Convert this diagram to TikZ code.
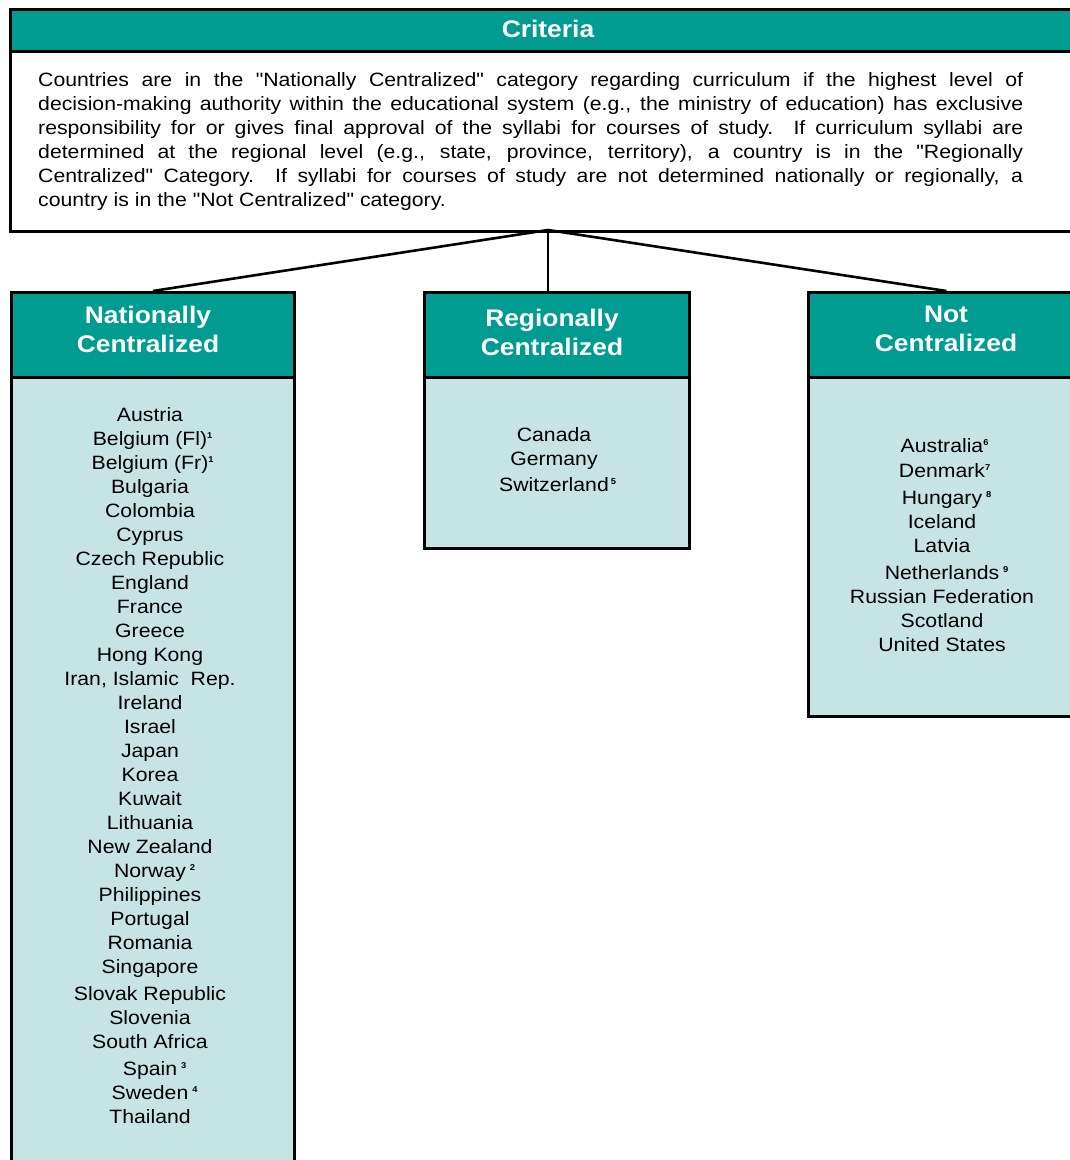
\documentclass[tikz,border=0pt]{standalone}
\usepackage{fontspec}
\setmainfont{Liberation Sans}[FakeStretch=1.1, Ligatures=TeXOff]
\definecolor{hdrteal}{RGB}{0,155,145}
\definecolor{bodylight}{RGB}{198,228,228}
\newcommand\fnm[1]{\rlap{\raisebox{7pt}{\fontsize{8.5}{8.5}\selectfont\bfseries #1}}}
\newcommand\fns[1]{\rlap{\hspace{4pt}\raisebox{7pt}{\fontsize{8.5}{8.5}\selectfont\bfseries #1}}}
\tikzset{
  box/.style={draw=black, line width=2.7pt, anchor=north west, inner sep=0pt},
  hdrbox/.style={box, fill=hdrteal},
  bodybox/.style={box, fill=bodylight},
  hdrtext/.style={text=white, font=\fontsize{24}{29}\selectfont\bfseries, align=center, inner sep=0pt},
  ctry/.style={font=\fontsize{19.3}{24}\selectfont, inner sep=0pt, anchor=base},
  critline/.style={font=\fontsize{19.3}{24}\selectfont, inner sep=0pt, anchor=base west},
  conn/.style={line width=2.6pt}
}
\begin{document}
\begin{tikzpicture}[x=1pt,y=-1pt]
\clip (0,0) rectangle (1070,1160);
\fill[white] (0,0) rectangle (1070,1160);
% Criteria
\node[hdrbox, minimum width=1076pt, minimum height=42pt] (critH) at (9,8) {};
\node[box, fill=white, minimum width=1076pt, minimum height=180pt] (critB) at (9,50) {};
\node[hdrtext] (critT) at (548,29) {Criteria};
\node[critline] (c1) at (38,86) {\makebox[985pt][s]{Countries are in the "Nationally Centralized" category regarding curriculum if the highest level of}};
\node[critline] (c2) at (38,110) {\makebox[985pt][s]{decision-making authority within the educational system (e.g., the ministry of education) has exclusive}};
\node[critline] (c3) at (38,134) {\makebox[985pt][s]{responsibility for or gives final approval of the syllabi for courses of study.\ \ If curriculum syllabi are}};
\node[critline] (c4) at (38,158) {\makebox[985pt][s]{determined at the regional level (e.g., state, province, territory), a country is in the "Regionally}};
\node[critline] (c5) at (38,182) {\makebox[985pt][s]{Centralized" Category.\ \ If syllabi for courses of study are not determined nationally or regionally, a}};
\node[critline] (c6) at (38,206) {country is in the "Not Centralized" category.};
% category boxes
\node[hdrbox, minimum width=283pt, minimum height=85pt] (natH) at (10,291) {};
\node[bodybox, minimum width=283pt, minimum height=799pt] (natB) at (10,376) {};
\node[hdrbox, minimum width=265pt, minimum height=85pt] (regH) at (423,291) {};
\node[bodybox, minimum width=265pt, minimum height=171pt] (regB) at (423,376) {};
\node[hdrbox, minimum width=276pt, minimum height=85pt] (notH) at (807,291) {};
\node[bodybox, minimum width=276pt, minimum height=339pt] (notB) at (807,376) {};
\node[hdrtext] (natT) at (148,329) {Nationally\\Centralized};
\node[hdrtext] (regT) at (552,332) {Regionally\\Centralized};
\node[hdrtext] (notT) at (946,329) {Not\\Centralized};
% connectors
\coordinate (hub) at (548,230);
\draw[conn] (hub) -- (natH.north);
\draw[conn] (hub) -- (hub |- regH.north);
\draw[conn] (hub) -- (notH.north);
% national list
\foreach \t/\y [count=\i] in {Austria/414, {Belgium (Fl)\fnm{1}}/438, {Belgium (Fr)\fnm{1}}/462, Bulgaria/486, Colombia/510, Cyprus/534, Czech Republic/558, England/582, France/606, Greece/630, Hong Kong/654, {Iran, Islamic\ \ Rep.}/678, Ireland/702, Israel/726, Japan/750, Korea/774, Kuwait/798, Lithuania/822, New Zealand/846, {Norway\fns{2}}/870, Philippines/894, Portugal/918, Romania/942, Singapore/966, Slovak Republic/993, Slovenia/1017, South Africa/1041, {Spain\fns{3}}/1068, {Sweden\fns{4}}/1092, Thailand/1116}
  \node[ctry] (n\i) at (150,\y+7) {\t};
% regional list
\foreach \t/\y [count=\i] in {Canada/434, Germany/458, {Switzerland\rlap{\hspace{2pt}\raisebox{7pt}{\fontsize{8.5}{8.5}\selectfont\bfseries 5}}}/484}
  \node[ctry] (r\i) at (554,\y+7) {\t};
% not centralized list
\foreach \t/\y [count=\i] in {{Australia\fnm{6}}/445, {Denmark\fnm{7}}/470, {Hungary\fns{8}}/497, Iceland/521, Latvia/545, {Netherlands\fns{9}}/572, Russian Federation/596, Scotland/620, United States/644}
  \node[ctry] (t\i) at (942,\y+7) {\t};
\end{tikzpicture}
\end{document}
